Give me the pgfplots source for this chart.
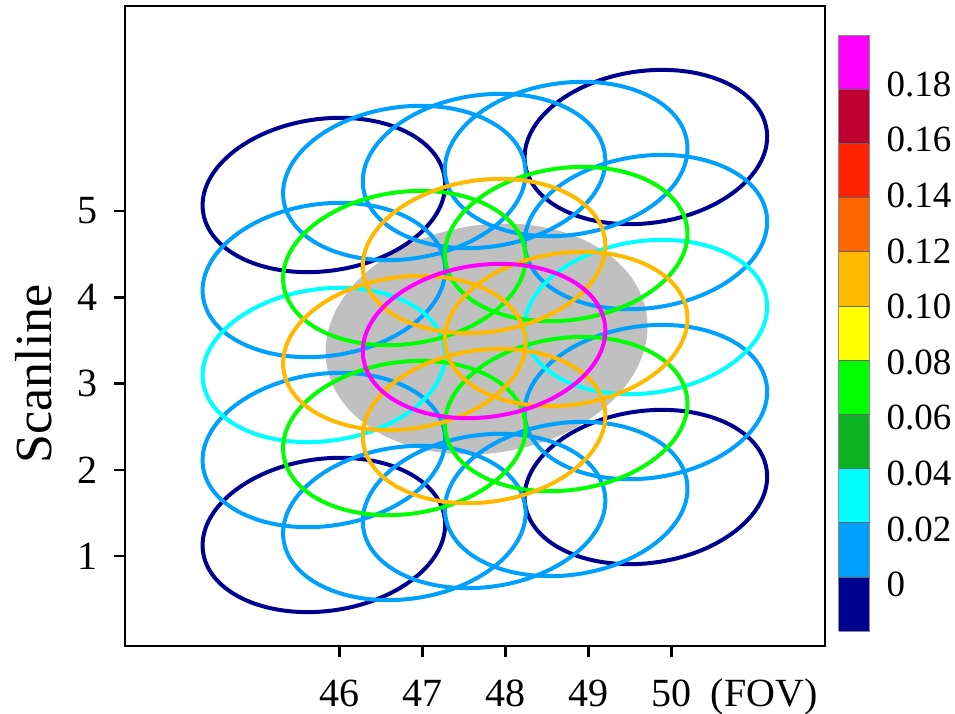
\documentclass[border=0pt]{standalone}
\usepackage{fontspec}
\setmainfont{Liberation Serif}
\usepackage{pgfplots}
\usepackage{pgfplotstable}
\pgfplotsset{compat=1.18}
\definecolor{blobgray}{RGB}{192,192,192}
\pgfdeclareplotmark{fov}{\pgfsetlinewidth{4pt}\pgfpathellipse{\pgfpointorigin}{\pgfpointpolar{8}{122pt}}{\pgfpointpolar{98}{76pt}}\pgfusepathqstroke}
\pgfdeclareplotmark{blob}{\pgfpathellipse{\pgfpointorigin}{\pgfpointpolar{9}{162pt}}{\pgfpointpolar{99}{114pt}}\pgfusepathqfill}
\pgfkeys{/pgf/number format/assume math mode=true}

\pgfplotstableread{
x y v
45.81 1.244 -0.01
49.69 1.800 -0.01
45.81 5.186 -0.01
49.69 5.742 -0.01
46.78 1.383 0.01
47.74 1.522 0.01
48.73 1.661 0.01
45.81 2.229 0.01
49.69 2.785 0.01
45.81 4.200 0.01
49.69 4.756 0.01
46.78 5.325 0.01
47.74 5.464 0.01
48.73 5.603 0.01
45.81 3.215 0.03
49.69 3.771 0.03
46.78 2.368 0.07
48.73 2.646 0.07
46.78 4.339 0.07
48.73 4.617 0.07
47.74 2.507 0.11
46.78 3.354 0.11
48.73 3.632 0.11
47.74 4.478 0.11
47.74 3.493 0.19
}\fovdata

\begin{document}
\begin{tikzpicture}
\path[use as bounding box] (0pt,0pt) rectangle (955pt,-714pt);
\begin{axis}[
  at={(125pt,-646pt)}, anchor=south west,
  scale only axis, width=700pt, height=640pt,
  xmin=43.414, xmax=51.848, ymin=-0.0435, ymax=7.377,
  xtick={46,47,48,49,50}, ytick={1,2,3,4,5},
  xtick pos=bottom, ytick pos=left, tick align=outside,
  major tick length=11pt,
  every tick/.style={black, line width=2.5pt},
  axis line style={line width=2.8pt},
  ticklabel style={font=\fontsize{40}{40}\selectfont, inner sep=0pt},
  xticklabel style={anchor=north, yshift=-23pt},
  yticklabel style={anchor=east, xshift=-16pt},
  xlabel={(FOV)},
  xlabel style={at={(axis description cs:0.913,-0.051)}, anchor=north, inner sep=0pt, font=\fontsize{40}{40}\selectfont},
  ylabel={Scanline},
  ylabel style={at={(axis description cs:-0.1043,0.425)}, anchor=south, inner sep=0pt, font=\fontsize{52}{52}\selectfont},
  colormap={fovmap}{rgb255=(0,0,144) rgb255=(0,160,255) rgb255=(0,255,255) rgb255=(12,176,35) rgb255=(0,255,0) rgb255=(255,255,0) rgb255=(255,185,0) rgb255=(255,102,0) rgb255=(255,34,0) rgb255=(192,0,48) rgb255=(255,0,255)},
  colormap access=piecewise constant,
  point meta min=-0.02, point meta max=0.20,
  colorbar,
  colorbar style={
    at={(parent axis.north east)}, anchor=north west, xshift=5pt, yshift=-29pt,
    scale only axis, width=31pt, height=596pt,
    ytick={-0.00294,0.01760,0.03813,0.05866,0.0792,0.09973,0.12027,0.1408,0.16134,0.18187},
    yticklabels={0,0.02,0.04,0.06,0.08,0.10,0.12,0.14,0.16,0.18},
    yticklabel style={font=\fontsize{37}{37}\selectfont, anchor=west, inner sep=0pt, xshift=17pt},
    major tick length=0pt,
    extra y ticks={0,0.02,0.04,0.06,0.08,0.10,0.12,0.14,0.16,0.18},
    extra y tick labels={},
    extra y tick style={grid=major, major grid style={black!60, line width=0.6pt}},
    axis on top,
    axis line style={line width=0.8pt, draw=black!45},
  },
]
\addplot[only marks, mark=blob, mark options={fill=blobgray, draw=none}] coordinates {(47.770,3.516)};
\addplot[scatter, only marks, mark=fov, point meta=explicit,
  scatter/use mapped color={draw=mapped color, fill=mapped color}] table[meta=v] {\fovdata};
\end{axis}
\end{tikzpicture}
\end{document}
